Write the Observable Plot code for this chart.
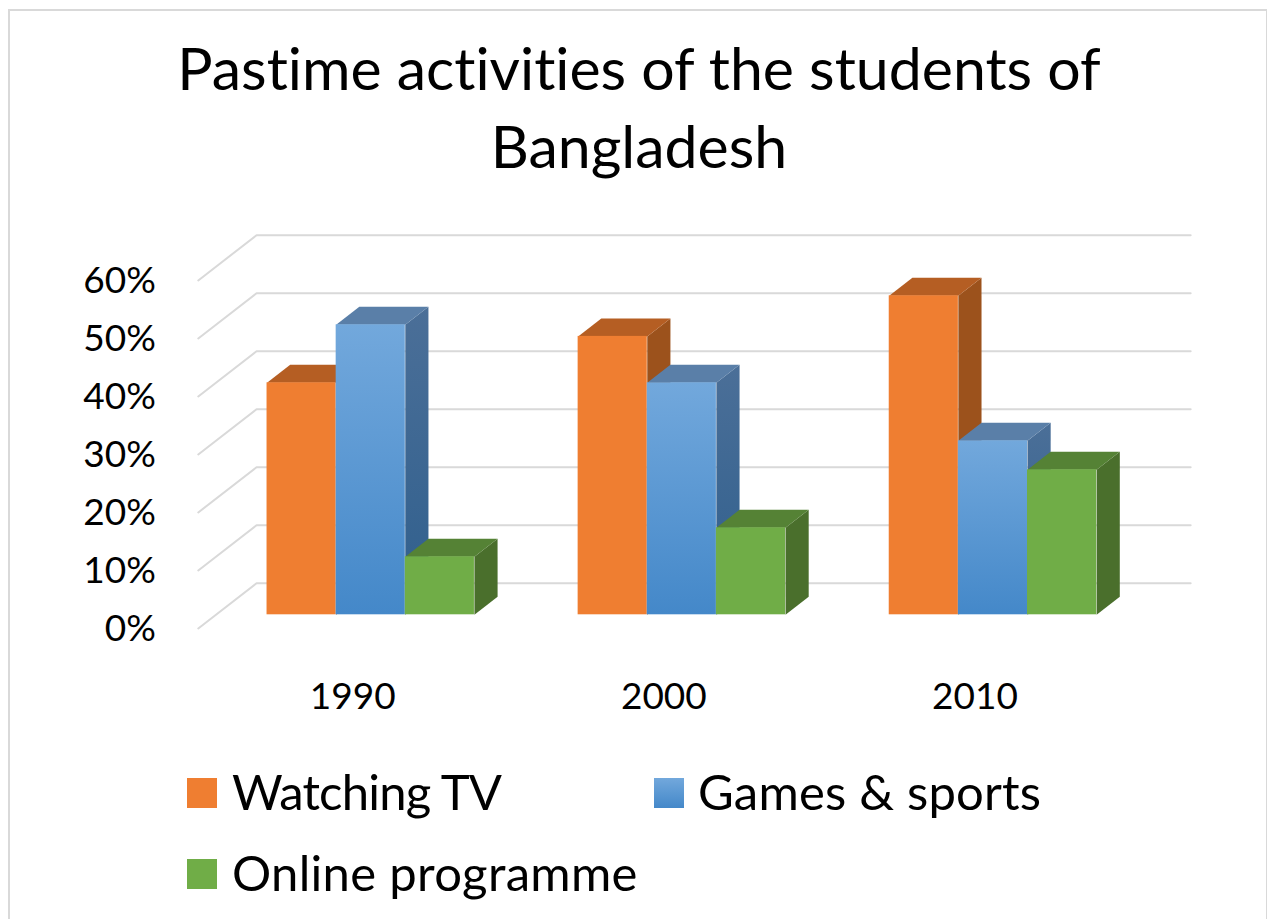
<!DOCTYPE html>
<html>
<head>
<meta charset="utf-8">
<script src="https://cdn.jsdelivr.net/npm/d3@7"></script>
<script src="https://cdn.jsdelivr.net/npm/@observablehq/plot@0.6"></script>
<style>
  html, body { margin: 0; padding: 0; background: #fff; overflow: hidden; }
  body { width: 1267px; height: 919px; position: relative; font-family: Lato, sans-serif; color: #000; font-variant-ligatures: none; }
  #frame { position: absolute; left: 8px; top: 9px; width: 1256px; height: 930px; border: 2px solid #d9d9d9; box-sizing: content-box; pointer-events: none; }
  #title { height: 200px; box-sizing: border-box; margin: 0; padding-top: 29px; text-align: center; font-size: 59px; font-weight: 400; line-height: 78px; position: relative; left: 0; width: 1278px; }
  #chart { height: 530px; }
  #chart svg { display: block; }
  #legend { position: relative; height: 189px; }
  .item { position: absolute; font-size: 49px; line-height: 60px; white-space: nowrap; }
  .sw { position: absolute; width: 30px; height: 30px; }
</style>
</head>
<body>
<div id="frame"></div>
<h1 id="title">Pastime activities of the students of<br>Bangladesh</h1>
<div id="chart"></div>
<div id="legend"></div>
<script>
const years = [1990, 2000, 2010];
const seriesNames = ["Watching TV", "Games & sports", "Online programme"];
const watchingTV = [40, 48, 55];
const gamesSports = [50, 40, 30];
const onlineProgramme = [10, 15, 25];
const tickValues = [0, 10, 20, 30, 40, 50, 60];
const seriesValues = [watchingTV, gamesSports, onlineProgramme];

const styles = [
  {front: "#ef7e31", top: "#b55e23", side: "#9c521c"},
  {front: "url(#blueFront)", top: "#5a7fa8", side: "url(#blueSide)"},
  {front: "#70ad47", top: "#558235", side: "#4a6f2c"}
];

// Oblique projection expressed in data units of the x and y scales.
const depthX = 0.335, depthY = 3.1;
const groupStep = 4.5, wallFront = -0.76, wallBack = 1.756, wallLeft = -0.74, wallRight = 13.36;
const project = (x, v, z) => ({x: x + z * depthX, y: v + z * depthY});

const gridPoints = tickValues.flatMap((t) => [
  {t, ...project(wallLeft, t, wallFront)},
  {t, ...project(wallLeft, t, wallBack)},
  {t, ...project(wallRight - wallBack * depthX, t, wallBack)}
]);

const barMarks = seriesValues.flatMap((values, s) => {
  const rows = values.map((v, g) => ({key: g, x1: g * groupStep + s, x2: g * groupStep + s + 1, v}));
  const tops = rows.flatMap((r) => [
    {key: r.key, ...project(r.x1, r.v, 0)}, {key: r.key, ...project(r.x2, r.v, 0)},
    {key: r.key, ...project(r.x2, r.v, 1)}, {key: r.key, ...project(r.x1, r.v, 1)}
  ]);
  const sides = rows.flatMap((r) => [
    {key: r.key, ...project(r.x2, 0, 0)}, {key: r.key, ...project(r.x2, r.v, 0)},
    {key: r.key, ...project(r.x2, r.v, 1)}, {key: r.key, ...project(r.x2, 0, 1)}
  ]);
  const face = {x: "x", y: "y", z: "key", curve: "linear-closed", stroke: "none"};
  return [
    Plot.line(sides, {...face, fill: styles[s].side}),
    Plot.line(tops, {...face, fill: styles[s].top}),
    Plot.rect(rows, {x1: "x1", x2: "x2", y1: () => 0, y2: "v", fill: styles[s].front})
  ];
});

const defs = () => d3.create("svg:defs").html(`
  <linearGradient id="blueFront" x1="0" y1="0" x2="0" y2="1">
    <stop offset="0" stop-color="#72a8dc"/><stop offset="1" stop-color="#4488c9"/>
  </linearGradient>
  <linearGradient id="blueSide" x1="0" y1="0" x2="0" y2="1">
    <stop offset="0" stop-color="#4b6f98"/><stop offset="1" stop-color="#2f5f8d"/>
  </linearGradient>`).node();

const groupCenter = (i) => i * groupStep + 1.24;

const plot = Plot.plot({
  width: 1267,
  height: 530,
  marginLeft: 197.4,
  marginRight: 32.6,
  marginTop: 8.3,
  marginBottom: 86.7,
  style: {fontFamily: "Lato, sans-serif", color: "#000", background: "transparent", overflow: "visible"},
  x: {domain: [-1, 14]},
  y: {domain: [-5, 70]},
  marks: [
    defs,
    Plot.line(gridPoints, {x: "x", y: "y", z: "t", stroke: "#d9d9d9", strokeWidth: 2}),
    ...barMarks,
    Plot.axisY({ticks: tickValues, tickFormat: (d) => d + "%", tickSize: 0, tickPadding: 42, dy: 14, fontSize: 37, label: null}),
    Plot.axisX({ticks: years.map((_, i) => groupCenter(i)), tickFormat: (d) => String(years[Math.round((d - 1.24) / groupStep)]), tickSize: 0, tickPadding: 39, fontSize: 37, label: null})
  ]
});
document.getElementById("chart").append(plot);

const legend = document.getElementById("legend");
const legendLayout = [
  {sx: 187, sy: 48, tx: 232, ls: -0.8},
  {sx: 654, sy: 48, tx: 698, ls: 0.2},
  {sx: 187, sy: 129, tx: 232, ls: 0.3}
];
const swatches = ["#ef7e31", "linear-gradient(#72a8dc,#4488c9)", "#70ad47"];
seriesNames.forEach((name, i) => {
  const l = legendLayout[i];
  const sw = document.createElement("div");
  sw.className = "sw";
  sw.style.cssText = `left:${l.sx}px;top:${l.sy}px;background:${swatches[i]}`;
  const t = document.createElement("div");
  t.className = "item";
  t.style.cssText = `left:${l.tx}px;top:${l.sy - 17}px;letter-spacing:${l.ls}px`;
  t.textContent = name;
  legend.append(sw, t);
});
</script>
</body>
</html>
